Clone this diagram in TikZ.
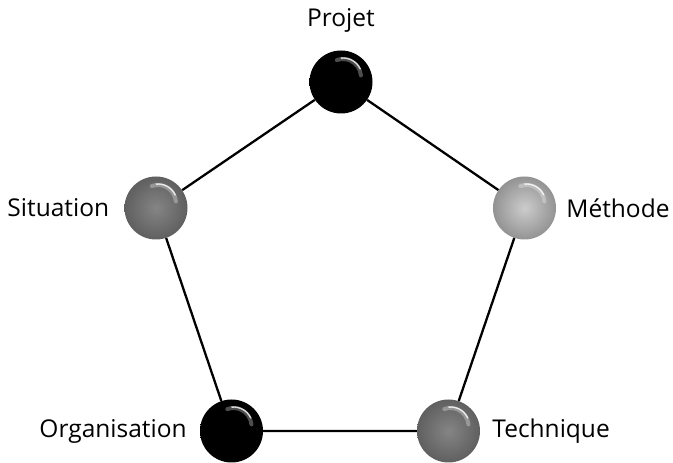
\documentclass[tikz,border=0pt]{standalone}
\usepackage{fontspec}
\setmainfont{Open Sans}
\usetikzlibrary{positioning}
\definecolor{midgray}{gray}{0.52}
\definecolor{lightgray}{gray}{0.80}

\begin{document}
\begin{tikzpicture}[x=1pt,y=1pt,
    ball/.style={circle,inner sep=0pt,minimum size=63pt,
                 inner color=#1,outer color=#1!72!black,
                 path picture={
                   \draw[white,opacity=0.30,line width=4pt,line cap=round]
                     ([shift={(2pt,5pt)}]path picture bounding box.center)
                     ++(5:18pt) arc[start angle=5,end angle=110,radius=18pt];
                   \draw[white,opacity=0.80,line width=1.4pt,line cap=round]
                     ([shift={(2pt,5pt)}]path picture bounding box.center)
                     ++(25:19pt) arc[start angle=25,end angle=95,radius=19pt];}},
    tag/.style={inner sep=0pt,font=\fontsize{24.5}{29}\selectfont}]
    \useasboundingbox (0,0) rectangle (673,463);
    \fill[white] (0,0) rectangle (673,463);
    % five points of the pentagon
    \node[ball=black] (proj) at (341,381) {};
    \node[ball=lightgray] (meth) at (524.5,255) {};
    \node[ball=midgray] (tech) at (448.5,32) {};
    \node[ball=black] (orga) at (231.5,32) {};
    \node[ball=midgray] (situ) at (156,255) {};
    \draw[line width=2.3pt] (proj)--(meth)--(tech)--(orga)--(situ)--(proj);

    \node[tag,above=18pt of proj] (projTxt) {Projet};
    \node[tag,right=10pt of meth] (methTxt) {Méthode};
    \node[tag,right=12pt of tech] (techTxt) {Technique};
    \node[tag,left=13pt of orga] (orgaTxt) {Organisation};
    \node[tag,left=15pt of situ] (situTxt) {Situation};
\end{tikzpicture}
\end{document}
